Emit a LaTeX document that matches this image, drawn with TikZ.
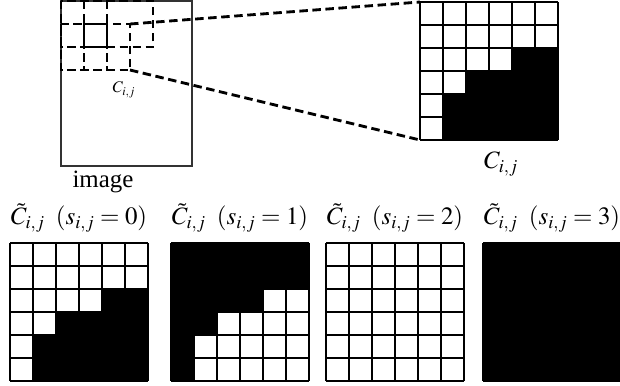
\documentclass[tikz,border=0pt]{standalone}
\usepackage{mathptmx}
\usepackage{fontspec}
\setmainfont{Liberation Serif}
\usetikzlibrary{positioning}

\tikzset{
  px/.style={x=0.02609cm, y=-0.02609cm},
  cellline/.style={draw=black, line width=1.1pt},
  frame/.style={draw=black!80, line width=1.1pt},
  window/.style={line width=2.1pt, dash pattern=on 6.3pt off 3.4pt},
  zoomline/.style={line width=2.1pt, dash pattern=on 6.3pt off 3.4pt},
  lab/.style={font=\fontsize{18.5}{22}\selectfont, inner sep=0pt},
  smalllab/.style={font=\fontsize{12}{14}\selectfont, inner sep=0pt}
}

% 6x6 block of cells, #1 = top left corner, #2 = what gets filled
\newcommand{\cellgrid}[2]{%
  \begin{scope}[shift={#1}, x=0.6cm, y=-0.6cm]
    #2
    \foreach \k in {0,...,6} {
      \draw[cellline] (\k,0) -- (\k,6);
      \draw[cellline] (0,\k) -- (6,\k);
    }
  \end{scope}}

\begin{document}
\begin{tikzpicture}[px]
  \useasboundingbox (0,0) rectangle (620,385);

  % the image with its windows
  \draw[frame] (61,1) rectangle (192,166);
  \draw[window] (61,1) rectangle (153,47);
  \draw[window] (61,24) rectangle (130,70);
  \draw[window] (84,1) -- (84,70);
  \draw[window] (107,1) -- (107,70);
  \draw[line width=2.1pt] (84,24) rectangle (107,47);
  \coordinate (win-ne) at (130,24);
  \coordinate (win-se) at (130,70);

  \node[smalllab] (cwin) at (124,90) {$C_{i,j}$};
  \node[lab] (imgname) at (103,182) {image};

  % zoomed block
  \cellgrid{(420,2)}{%
    \fill (1,6) -- (6,6) -- (6,2) -- (4,2) -- (4,3) -- (2,3) -- (2,4) -- (1,4) -- cycle;}
  \coordinate (big-nw) at (420,2);
  \coordinate (big-sw) at (420,140);
  \draw[zoomline] (win-ne) -- (big-nw);
  \draw[zoomline] (win-se) -- (big-sw);
  \node[lab] (cbig) at (501,164) {$C_{i,j}$};

  % the four states
  \cellgrid{(10,243)}{%
    \fill (1,6) -- (6,6) -- (6,2) -- (4,2) -- (4,3) -- (2,3) -- (2,4) -- (1,4) -- cycle;}
  \cellgrid{(171,243)}{%
    \fill (0,0) rectangle (6,6);
    \fill[white] (1,6) -- (6,6) -- (6,2) -- (4,2) -- (4,3) -- (2,3) -- (2,4) -- (1,4) -- cycle;}
  \cellgrid{(326,243)}{}
  \cellgrid{(483,243)}{\fill (0,0) rectangle (6,6);}

  \node[lab] (state0) at (79,218) {$\tilde{C}_{i,j}\;\;(s_{i,j}=0)$};
  \node[lab] (state1) at (240,218) {$\tilde{C}_{i,j}\;\;(s_{i,j}=1)$};
  \node[lab] (state2) at (395,218) {$\tilde{C}_{i,j}\;\;(s_{i,j}=2)$};
  \node[lab] (state3) at (552,218) {$\tilde{C}_{i,j}\;\;(s_{i,j}=3)$};
\end{tikzpicture}
\end{document}
